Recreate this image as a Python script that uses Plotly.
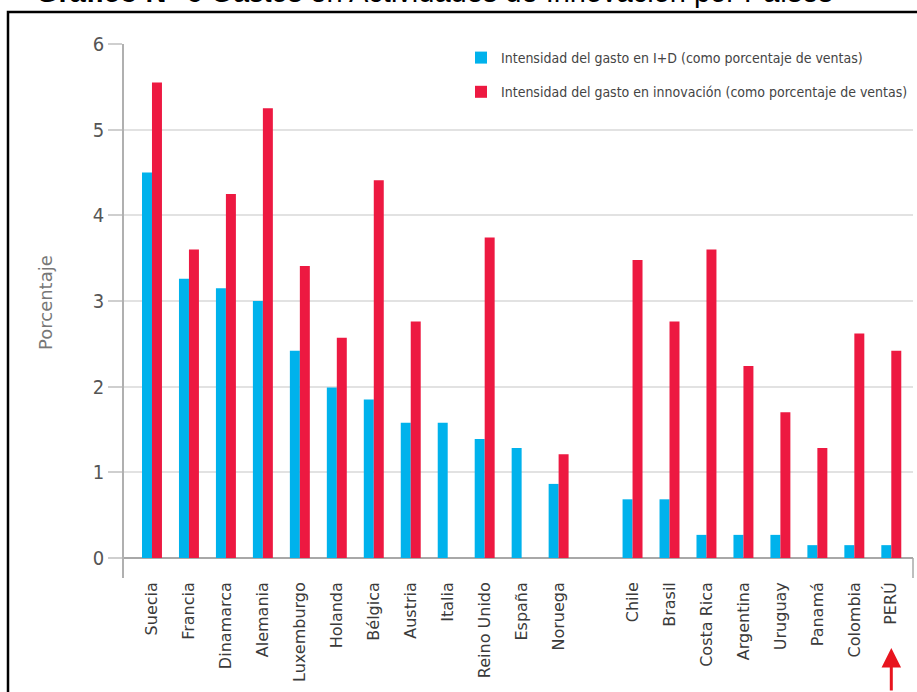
import plotly.graph_objects as go

categories = ["Suecia", "Francia", "Dinamarca", "Alemania", "Luxemburgo", "Holanda",
              "Bélgica", "Austria", "Italia", "Reino Unido", "España", "Noruega", " ",
              "Chile", "Brasil", "Costa Rica", "Argentina", "Uruguay", "Panamá",
              "Colombia", "PERÚ"]
gasto_id = [4.50, 3.26, 3.15, 3.00, 2.42, 1.99, 1.85, 1.58, 1.58, 1.39, 1.285, 0.865, None,
            0.685, 0.685, 0.27, 0.27, 0.27, 0.15, 0.15, 0.15]
gasto_innov = [5.55, 3.60, 4.25, 5.25, 3.41, 2.57, 4.41, 2.76, None, 3.74, None, 1.21, None,
               3.48, 2.76, 3.60, 2.24, 1.70, 1.285, 2.62, 2.42]
y_ticks = [0, 1, 2, 3, 4, 5, 6]
serie_names = ["Intensidad del gasto en I+D (como porcentaje de ventas)",
               "Intensidad del gasto en innovación (como porcentaje de ventas)"]
title_bold = "Gráfico N° 6"
title_rest = "Gastos en Actividades de Innovación por Países"

BLUE = "#00B2EC"
RED = "#ED1941"
W, H = 917, 692
L, R, T, B = 124, 4, 44, 114
pw, ph = W - L - R, H - T - B

def px_x(p):
    return (p - L) / pw

def px_y(p):
    return (H - B - p) / ph

fig = go.Figure()
fig.add_trace(go.Bar(x=categories, y=gasto_id, name=serie_names[0], marker_color=BLUE,
                     marker_line_width=0, legendgroup="a"))
fig.add_trace(go.Bar(x=categories, y=gasto_innov, name=serie_names[1], marker_color=RED,
                     marker_line_width=0, legendgroup="b"))

narrow = "DejaVu Sans Condensed, Roboto, sans-serif"

fig.update_layout(
    width=W, height=H,
    margin=dict(l=L, r=R, t=T, b=B, pad=0, autoexpand=False),
    paper_bgcolor="white", plot_bgcolor="white",
    barmode="group", bargap=0.46, bargroupgap=0,
    showlegend=True,
    legend=dict(x=1, y=px_y(42), xanchor="right", yanchor="top",
                bgcolor="rgba(0,0,0,0)", font=dict(family=narrow, size=14, color="#444"),
                tracegroupgap=13, traceorder="grouped"),
    xaxis=dict(type="category", range=[-0.757, 20.587], tickangle=-90,
               tickfont=dict(family="DejaVu Sans", size=16, color="#3a3a3a"),
               showgrid=False, showline=False, zeroline=False, ticks=""),
    yaxis=dict(range=[-0.2335, 6], tickvals=y_ticks, ticks="outside", ticklen=14,
               tickcolor="#cfcfcf", tickwidth=2,
               tickfont=dict(family=narrow, size=20, color="#555"),
               showgrid=True, gridcolor="#e2e2e2", gridwidth=2,
               zeroline=True, zerolinecolor="#a8a8a8", zerolinewidth=2,
               showline=True, linecolor="#b0b0b0", linewidth=1.5),
    font=dict(family="DejaVu Sans"),
)

# y axis title
fig.add_annotation(text="Porcentaje", xref="paper", yref="paper", x=px_x(45), y=px_y(303),
                   textangle=-90, showarrow=False, xanchor="center", yanchor="middle",
                   font=dict(family="DejaVu Sans", size=18, color="#777"))

# cut-off title at the top
fig.add_annotation(text="<b>" + title_bold + "</b> " + title_rest, xref="paper", yref="paper",
                   x=px_x(34), y=px_y(-8), xanchor="left", yanchor="middle", showarrow=False,
                   font=dict(family="Liberation Sans, Arial, sans-serif", size=29, color="black"))

# black frame
fig.add_shape(type="rect", xref="paper", yref="paper", x0=px_x(8), x1=px_x(940),
              y0=px_y(720), y1=px_y(12), line=dict(color="black", width=2.5),
              fillcolor="rgba(0,0,0,0)", layer="above")

# right end tick of the x axis
fig.add_shape(type="line", xref="paper", yref="y", x0=1, x1=1, y0=0, y1=-0.2335,
              line=dict(color="#a8a8a8", width=1.5))

# red arrow under PERÚ
fig.add_annotation(text="", xref="x", yref="paper", x="PERÚ", y=px_y(648),
                   ax=0, ay=60, showarrow=True, arrowhead=2, arrowsize=1.3,
                   arrowwidth=3, arrowcolor="#E8141E")

fig.write_html("out.html")
